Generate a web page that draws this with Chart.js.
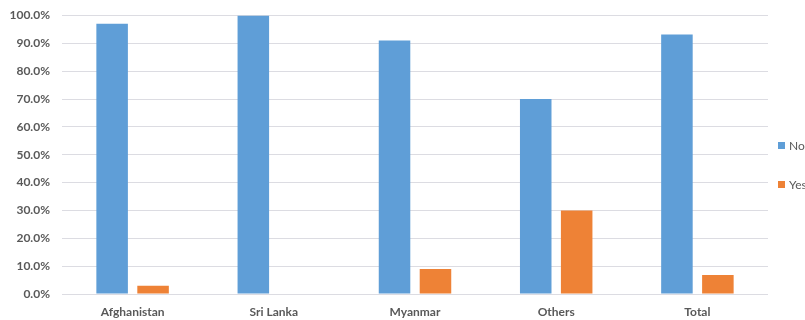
<!DOCTYPE html>
<html>
<head>
<meta charset="utf-8">
<script src="https://cdn.jsdelivr.net/npm/chart.js@4.4.0/dist/chart.umd.min.js"></script>
<style>
  body { margin: 0; background: #fff; }
  #wrap { width: 805px; height: 320px; position: relative; }
</style>
</head>
<body>
<div id="wrap"><canvas id="chart"></canvas></div>
<script>
// data
const categories = ["Afghanistan", "Sri Lanka", "Myanmar", "Others", "Total"];
const noValues = [97.0, 100.0, 91.0, 70.0, 93.2];
const yesValues = [3.0, 0.0, 9.0, 30.0, 6.8];
const seriesNames = ["No", "Yes"];
const yMax = 100;
const yStep = 10;

const textGray = "#595959";
const gridGray = "#dcdce2";

// small legend on the right, like the excel one
const sideLegend = {
  id: "sideLegend",
  afterDraw(chart) {
    const ctx = chart.ctx;
    ctx.save();
    ctx.font = "12px Lato";
    ctx.textBaseline = "middle";
    chart.data.datasets.forEach((ds, i) => {
      const y = 145.5 + i * 39;
      ctx.fillStyle = ds.backgroundColor;
      ctx.fillRect(778, y - 3.5, 7, 7);
      ctx.fillStyle = textGray;
      ctx.fillText(ds.label, 789, y + 1);
    });
    ctx.restore();
  }
};

new Chart(document.getElementById("chart"), {
  type: "bar",
  data: {
    labels: categories,
    datasets: [
      {
        label: seriesNames[0],
        data: noValues,
        backgroundColor: "#5f9ed7",
        categoryPercentage: 0.58,
        barPercentage: 0.77
      },
      {
        label: seriesNames[1],
        data: yesValues,
        backgroundColor: "#ee8236",
        categoryPercentage: 0.58,
        barPercentage: 0.77
      }
    ]
  },
  options: {
    responsive: true,
    maintainAspectRatio: false,
    animation: false,
    layout: { padding: { top: 0, right: 37, bottom: 0, left: 0 } },
    plugins: {
      legend: { display: false },
      tooltip: { enabled: false }
    },
    scales: {
      x: {
        grid: { display: false, drawTicks: false },
        border: { display: false },
        ticks: {
          color: textGray,
          font: { family: "Lato", size: 12, weight: "bold" },
          padding: 11,
          maxRotation: 0
        },
        afterFit(scale) { scale.height = 26; }
      },
      y: {
        min: 0,
        max: yMax,
        grid: { color: gridGray, lineWidth: 1, drawTicks: false },
        border: { display: false },
        ticks: {
          stepSize: yStep,
          color: textGray,
          font: { family: "Lato", size: 12, weight: "bold" },
          padding: 12,
          callback: v => v.toFixed(1) + "%"
        },
        afterFit(scale) {
          scale.width = 62;
          scale.paddingTop = 15.5;
          scale.paddingBottom = 0;
        }
      }
    }
  },
  plugins: [sideLegend]
});
</script>
</body>
</html>
